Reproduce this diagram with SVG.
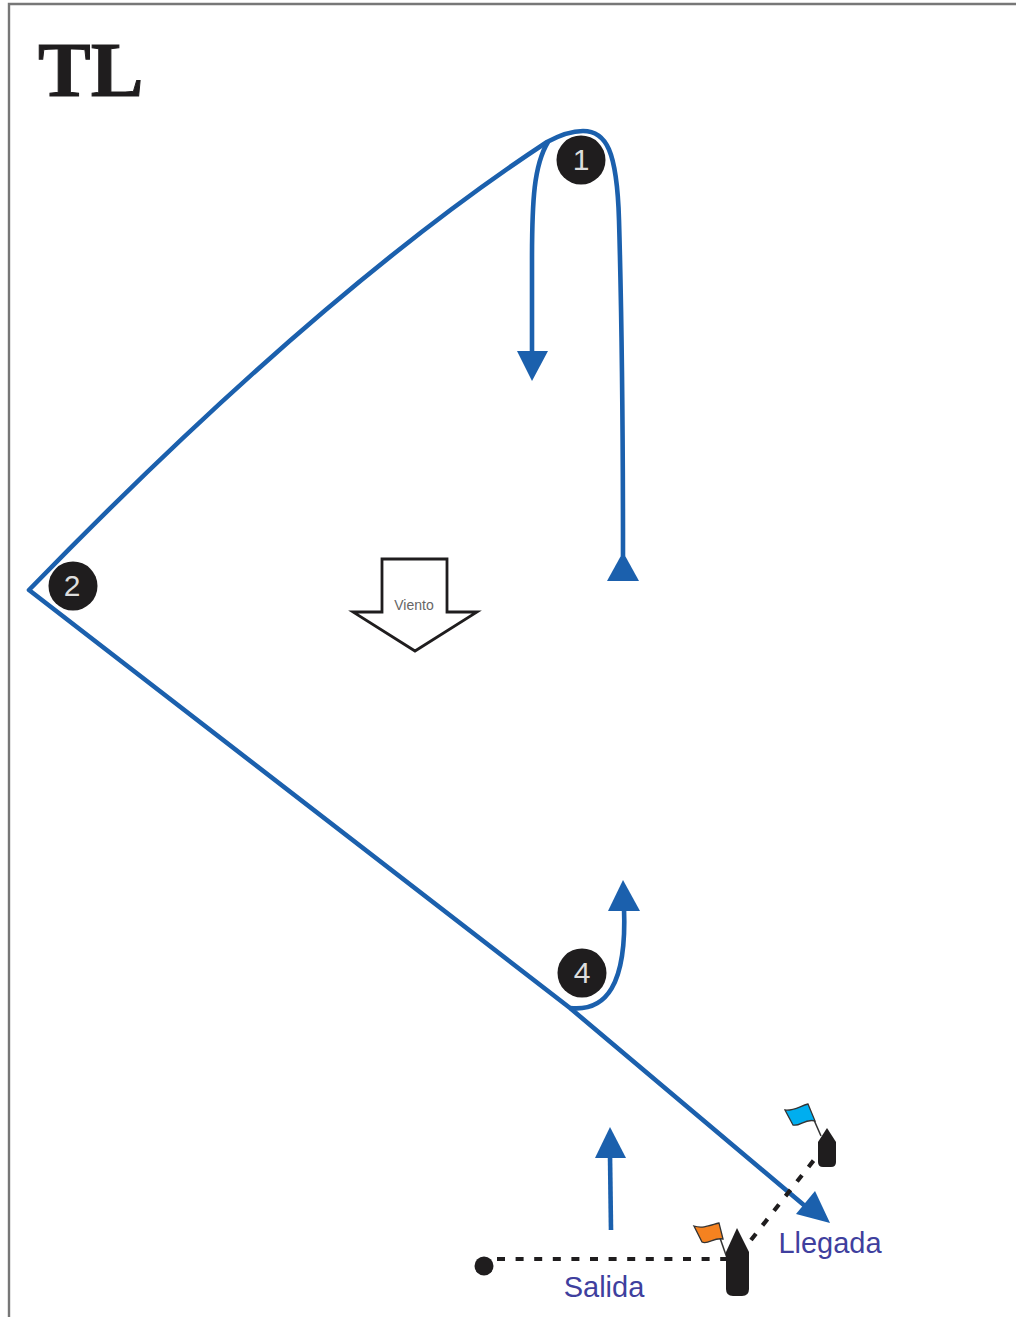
<svg xmlns="http://www.w3.org/2000/svg" width="1016" height="1317" viewBox="0 0 1016 1317">
<style>
.c{fill:none;stroke:#1b60ad;stroke-width:4.6;stroke-linejoin:round}
.h{fill:#1b60ad}
.d{fill:none;stroke:#1f1d1e;stroke-width:4.2;stroke-dasharray:8 10.6}
.b{fill:#1f1d1e}
.n{font:30px "Liberation Sans",Arial,sans-serif;fill:#ddd;text-anchor:middle}
.l{font:29px "Liberation Sans",Arial,sans-serif;fill:#3f3f9e;text-anchor:middle}
</style>
<rect width="1016" height="1317" fill="#fff"/>
<path d="M9 1317V4H1016" fill="none" stroke="#777" stroke-width="2.4"/>
<text id="title" x="38" y="96" font-family="'Liberation Serif',serif" font-weight="bold" font-size="79" fill="#1f1d1e" stroke="#1f1d1e" stroke-width="1">TL</text>
<g id="connectors">
<path class="c" d="M623 556C623 400 621 290 619 220C617 150 606 131 583 131C572 131 560 135 547 142C360 265 170 445 29 590L570 1008L805 1206"/>
<path class="c" d="M548 142C534 165 532 200 532 260L532 355"/>
<path class="c" d="M570 1008C606 1012 627 985 624 908"/>
<path class="c" d="M611 1230L610 1155"/>
<path class="h" d="M517 351H548L532 381Z"/>
<path class="h" d="M623 552L639 581H607Z"/>
<path class="h" d="M623 880L640 911H608Z"/>
<path class="h" d="M610 1127L626 1158H595Z"/>
<path class="h" d="M815 1191L830 1223L796 1214Z"/>
<path class="d" d="M497 1259H727"/>
<path class="d" d="M751 1240L814 1160"/>
</g>
<g id="wind">
<path d="M382 612V559H447V612H477L415 651L353 612Z" fill="#fff" stroke="#1f1d1e" stroke-width="2.8"/>
<text x="414" y="610" font-family="'Liberation Sans',sans-serif" font-size="14" fill="#666" text-anchor="middle">Viento</text>
</g>
<g id="mark1"><circle class="b" cx="581" cy="160" r="24.5"/><text class="n" x="581" y="170">1</text></g>
<g id="mark2"><circle class="b" cx="73" cy="586" r="24.5"/><text class="n" x="72" y="596">2</text></g>
<g id="mark4"><circle class="b" cx="582" cy="973" r="24.5"/><text class="n" x="582" y="983">4</text></g>
<g id="start">
<circle class="b" cx="484" cy="1266" r="9.5"/>
<text class="l" x="604" y="1297">Salida</text>
</g>
<g id="finish-label"><text class="l" x="830" y="1253">Llegada</text></g>
<g id="boat-large">
<path d="M720 1238L727 1258" stroke="#333" stroke-width="1.5" fill="none"/>
<path d="M694 1226C703 1229 711 1225 719 1223L723 1239C714 1237 708 1245 702 1242Z" fill="#f58220" stroke="#333" stroke-width="1.3"/>
<path class="b" d="M737 1228L749 1252V1289Q749 1296 742 1296H733Q726 1296 726 1289V1252Z"/>
</g>
<g id="boat-small">
<path d="M814 1120L821 1136" stroke="#333" stroke-width="1.5" fill="none"/>
<path d="M785 1110C794 1111 800 1106 808 1104L815 1121C805 1118 800 1127 793 1125Z" fill="#00aeef" stroke="#333" stroke-width="1.3"/>
<path class="b" d="M827 1128L836 1142V1162Q836 1167 831 1167H823Q818 1167 818 1162V1142Z"/>
</g>
</svg>
